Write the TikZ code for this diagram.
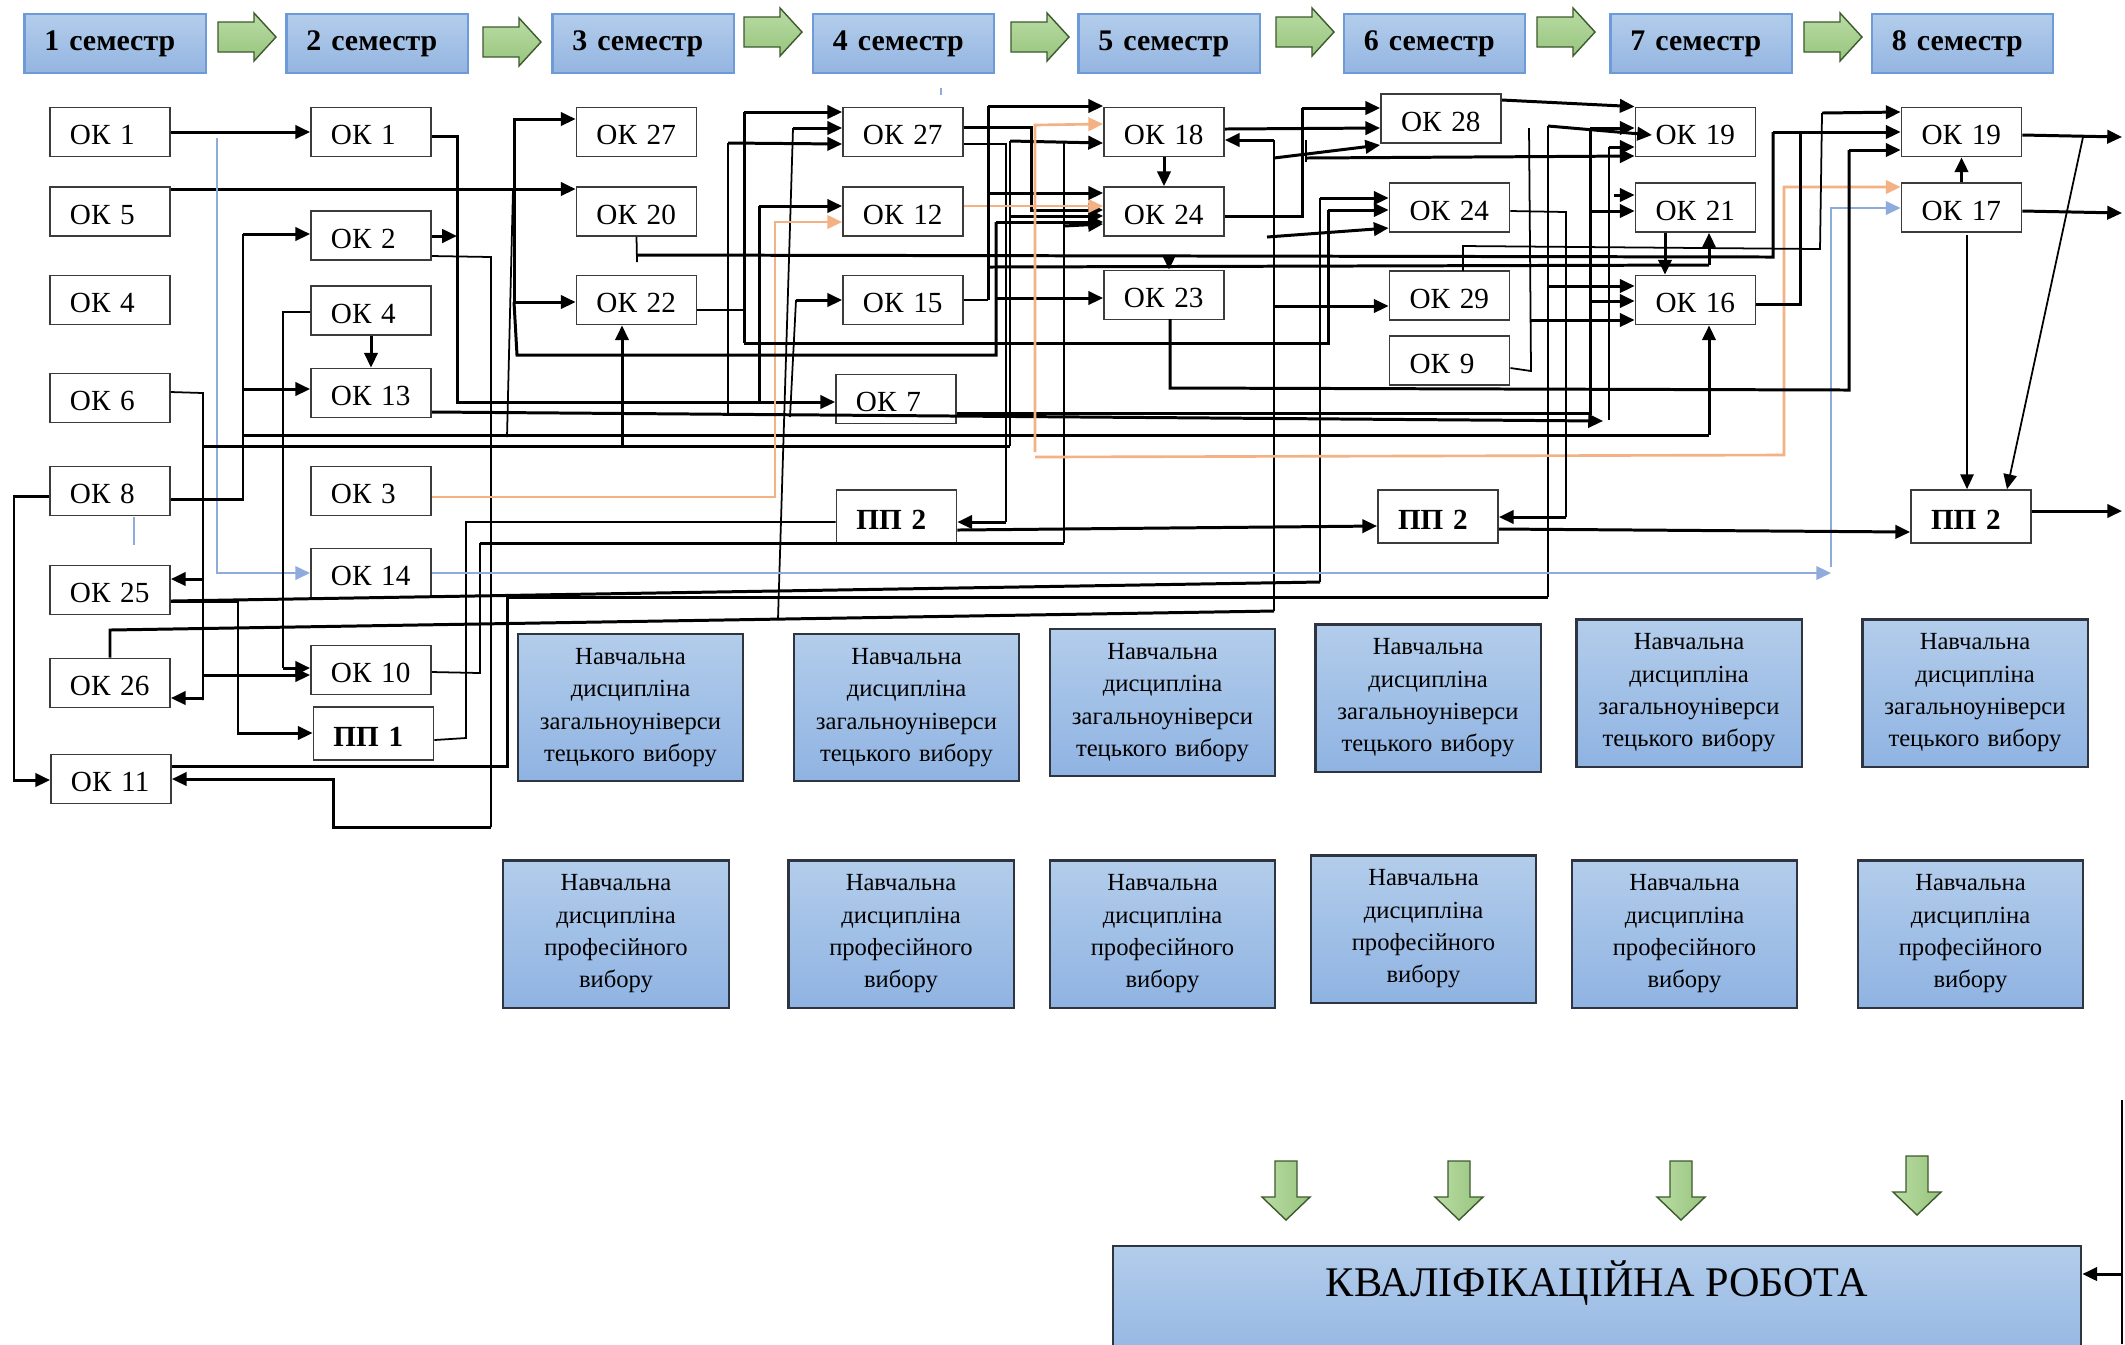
\documentclass[tikz,border=0pt]{standalone}
\usepackage{fontspec}
\setmainfont{Liberation Serif}
\usepackage{xcolor}
\usepackage{tikz}
\usetikzlibrary{arrows.meta}
\definecolor{boxline}{HTML}{3B3B3B}
\definecolor{semtop}{HTML}{B3CDEB}
\definecolor{sembot}{HTML}{94B5E1}
\definecolor{semline}{HTML}{6E9BD8}
\definecolor{discline}{HTML}{2E3440}
\definecolor{disctop}{HTML}{B3CDEB}
\definecolor{discbot}{HTML}{8FB3E2}
\definecolor{grtop}{HTML}{B9DCA4}
\definecolor{grbot}{HTML}{98C47E}
\definecolor{grline}{HTML}{3D5A2E}
\definecolor{peach}{HTML}{F4B183}
\definecolor{skyline}{HTML}{8FAADC}
\tikzset{
  okbox/.style={draw=boxline, fill=white, line width=0.5pt, minimum width=1.2cm,
    minimum height=0.49cm, text width=0.8cm, inner xsep=0.2cm, inner ysep=0pt,
    text height=0.25cm, text depth=0cm,
    align=left, font=\fontsize{8.3}{9}\selectfont},
  ppbox/.style={okbox, minimum height=0.53cm, font=\fontsize{8.3}{9}\selectfont\bfseries},
  semhead/.style={draw=semline, top color=semtop, bottom color=sembot, line width=0.6pt,
    minimum width=1.81cm, minimum height=0.59cm, text width=1.41cm, inner xsep=0.2cm,
    align=left, font=\fontsize{8.5}{10}\selectfont\bfseries},
  discbox/.style={draw=discline, top color=disctop, bottom color=discbot, line width=0.6pt,
    minimum width=2.25cm, minimum height=1.47cm, text width=2.1cm, inner xsep=0.075cm,
    align=center, font=\fontsize{7}{9.2}\selectfont},
  krbox/.style={draw=discline, top color=disctop, bottom color=discbot, line width=0.6pt,
    minimum width=9.68cm, inner ysep=0pt, text height=0.5cm, text depth=0.8cm,
    font=\fontsize{12}{14}\selectfont},
  greenarrow/.style={draw=grline, line width=0.4pt, top color=grtop, bottom color=grbot},
  greendown/.style={draw=grline, line width=0.4pt, left color=grtop, right color=grbot},
  wire/.style={line width=0.85pt, black},
  thinwire/.style={line width=0.5pt, black},
  orwire/.style={line width=0.75pt, peach},
  bluwire/.style={line width=0.75pt, skyline},
  arr/.style={-{Triangle[length=4.2pt,width=3.8pt]}}
}

\begin{document}
\begin{tikzpicture}[x=0.01cm, y=-0.01cm]
\useasboundingbox (0,0) rectangle (2125,1344);
\fill[white] (0,0) rectangle (2125,1344);
\clip (0,0) rectangle (2125,1344);

\foreach \i/\x in {1/115,2/377,3/643,4/903.5,5/1169,6/1434.5,7/1701,8/1962.5}
  \node[semhead] (sem\i) at (\x,43.5) {\i\ семестр};
\foreach \x/\y in {218/37,483/42,744/32,1011/37,1276/32,1537/32,1804/37}
  \draw[greenarrow] (\x,\y-15) -- (\x+36,\y-15) -- (\x+36,\y-24) -- (\x+58,\y)
    -- (\x+36,\y+24) -- (\x+36,\y+15) -- (\x,\y+15) -- cycle;

\foreach \n/\y/\t in {a1/132/1,a5/211.5/5,a4/300/4,a6/398/6,a8/491/8,a25/590/25,a26/683/26}
  \node[okbox] (\n) at (110,\y) {ОК \t};
\node[okbox] (a11) at (111,779) {ОК 11};
\foreach \n/\y/\t in {b1/132/1,b2/235.5/2,b4/310.5/4,b13/393/13,b3/491/3,b14/573/14,b10/670/10}
  \node[okbox] (\n) at (371,\y) {ОК \t};
\node[ppbox] (bp1) at (373.5,733.5) {ПП 1};
\foreach \n/\y/\t in {c27/132/27,c20/211.5/20,c22/300/22}
  \node[okbox] (\n) at (636.5,\y) {ОК \t};
\foreach \n/\y/\t in {d27/132/27,d12/211.5/12,d15/300/15}
  \node[okbox] (\n) at (903,\y) {ОК \t};
\node[okbox] (d7) at (896,399) {ОК 7};
\node[ppbox] (dp2) at (896.5,516.5) {ПП 2};
\foreach \n/\y/\t in {e18/132/18,e24/211.5/24,e23/295/23}
  \node[okbox] (\n) at (1164,\y) {ОК \t};
\node[okbox] (f28) at (1441,118.5) {ОК 28};
\foreach \n/\y/\t in {f24/207.5/24,f29/295.5/29,f9/360.5/9}
  \node[okbox] (\n) at (1449.5,\y) {ОК \t};
\node[ppbox] (fp2) at (1438,516.5) {ПП 2};
\foreach \n/\y/\t in {g19/132/19,g21/207.5/21,g16/300/16}
  \node[okbox] (\n) at (1695.5,\y) {ОК \t};
\foreach \n/\y/\t in {h19/132/19,h17/207.5/17}
  \node[okbox] (\n) at (1961.5,\y) {ОК \t};
\node[ppbox] (hp2) at (1971,516.5) {ПП 2};

\foreach \i/\x/\y in {1/630.5/707.5,2/906.5/707.5,3/1162.5/702.5,4/1428/698,5/1689/693,6/1975/693}
  \node[discbox] (gen\i) at (\x,\y) {Навчальна\\дисципліна\\загальноуніверси\\тецького вибору};
\foreach \i/\x/\y in {1/616/934,2/901/934,3/1162.5/934,4/1423.5/929,5/1684.5/934,6/1970.5/934}
  \node[discbox] (prof\i) at (\x,\y) {Навчальна\\дисципліна\\професійного\\вибору};

\foreach \x/\y in {1286/1161,1459/1161,1681/1161,1917/1156}
  \draw[greendown] (\x-11,\y) -- (\x+11,\y) -- (\x+11,\y+36) -- (\x+24,\y+36)
    -- (\x,\y+59) -- (\x-24,\y+36) -- (\x-11,\y+36) -- cycle;
\node[krbox, anchor=north] (kr) at (1597,1245) {КВАЛІФІКАЦІЙНА РОБОТА};

\draw[wire,arr] (a1) -- (b1);
\draw[wire,arr] (a5.east |- 0,189) -- (c20.west |- 0,189);
\draw[bluwire,arr] (217,138) |- (b14.west);
\draw[bluwire] (134,517) -- (134,545);
\draw[bluwire] (941,88) -- (941,95);
\draw[wire,arr] (b1.east |- 0,136) -- (457,136) -- (457,402) -- (d7.west |- 0,402);
\draw[wire,arr] (b2.east |- 0,236) -- (457,236);
\draw[thinwire] (b2.east |- 0,256) -- (491,257) -- (491,827);
\draw[wire,arr] (491,827) -- (333,827) -- (333,779) -- (a11.east |- 0,779);
\draw[wire] (a8.east |- 0,499) -- (243,499) -- (243,234);
\draw[wire,arr] (243,234) -- (b2.west |- 0,234);
\draw[wire,arr] (243,389) -- (b13.west |- 0,389);
\draw[wire] (243,435) -- (1709,435);
\draw[wire,arr] (1709,435) -- (g16.south -| 1709,0);
\draw[thinwire] (a6.east |- 0,392) -- (203,393) -- (203,700);
\draw[wire,arr] (203,579) -- (a25.east |- 0,579);
\draw[wire,arr] (203,698) -- (a26.east |- 0,698);
\draw[wire,arr] (203,675) -- (b10.west |- 0,675);
\draw[wire] (203,446) -- (1010,446);
\draw[thinwire] (1010,446) -- (1010,141);
\draw[wire,arr] (1010,141) -- (e18.west |- 0,143);
\draw[wire,arr] (1010,216) -- (e24.west |- 0,216);
\draw[wire,arr] (622,446) -- (c22.south -| 622,0);
\draw[wire,arr] (b4) -- (b13);
\draw[thinwire] (b4.west |- 0,312) -- (283,312) -- (283,668);
\draw[wire,arr] (283,668) -- (b10.west |- 0,668);
\draw[wire,arr] (a8.west |- 0,496) -- (14,496) -- (14,780) -- (a11.west |- 0,780);
\draw[wire,arr] (a25.east |- 0,601) -- (238,601) -- (238,733) -- (bp1.west |- 0,733);
\draw[wire] (a25.east |- 0,601) -- (1320,582);
\draw[thinwire] (1320,582) -- (1320,198);
\draw[wire,arr] (1320,198) -- (f24.west |- 0,198);
\draw[wire] (a26.north) -- (110,630) -- (1274,611);
\draw[thinwire] (1274,611) -- (1274,140);
\draw[wire,arr] (1274,140) -- (e18.east |- 0,140);
\draw[wire,arr] (1274,306) -- (f29.west |- 0,306);
\draw[wire,arr] (1274,158) -- (f28.west |- 0,145);
\draw[thinwire] (778,619) -- (793,128);
\draw[wire,arr] (793,128) -- (d27.west |- 0,128);
\draw[wire] (a11.east |- 0,766) -- (507,766) -- (507,597) -- (1548,597);
\draw[thinwire] (1548,597) -- (1548,126);
\draw[wire,arr] (1548,126) -- (1652,135);
\draw[wire,arr] (1548,286) -- (g16.west |- 0,286);
\draw[thinwire] (b10.east |- 0,672) -- (480,673) -- (480,543);
\draw[wire] (480,543) -- (1064,543);
\draw[thinwire] (1064,543) -- (1064,142);
\draw[wire,arr] (1064,226) -- (e24.west |- 0,224);
\draw[thinwire] (bp1.east |- 0,740) -- (466,738) -- (466,522) -- (dp2.west |- 0,522);
\draw[orwire,arr] (b3.east |- 0,497) -- (775,497) -- (775,222) -- (d12.west |- 0,222);
\draw[bluwire,arr] (b14.east |- 0,573) -- (1831,573);
\draw[bluwire,arr] (1831,567) -- (1831,208) -- (h17.west |- 0,208);
\draw[wire,arr] (514,302) -- (514,119) -- (c27.west |- 0,119);
\draw[wire,arr] (514,302) -- (c22.west |- 0,302);
\draw[wire] (514,302) -- (517,355) -- (996,355) -- (996,222);
\draw[wire,arr] (996,222) -- (e24.west |- 0,222);
\draw[wire,arr] (996,298) -- (e23.west |- 0,298);
\draw[thinwire] (513,189) -- (507,437);
\draw[thinwire] (c20.south) -- (637,262);
\draw[wire] (636,255) -- (1773,257) -- (1773,132);
\draw[wire,arr] (1773,132) -- (h19.west |- 0,132);
\draw[wire,arr] (1169,256) -- (e23.north -| 1169,0);
\draw[thinwire] (c22.east |- 0,310) -- (744,310);
\draw[wire] (744,343) -- (744,112);
\draw[wire,arr] (744,112) -- (d27.west |- 0,112);
\draw[wire] (744,343) -- (1328,343) -- (1328,210);
\draw[wire,arr] (1328,210) -- (f24.west |- 0,210);
\draw[wire,arr] (b13.east |- 0,412) -- (1603,421);
\draw[thinwire] (728,416) -- (728,143);
\draw[wire,arr] (728,143) -- (d27.west |- 0,144);
\draw[thinwire] (790,417) -- (796,300);
\draw[wire,arr] (796,300) -- (d15.west |- 0,300);
\draw[thinwire] (1609,420) -- (1609,147);
\draw[wire,arr] (1609,147) -- (g19.west |- 0,147);
\draw[wire] (759,402) -- (759,206);
\draw[wire,arr] (759,206) -- (d12.west |- 0,206);
\draw[wire] (d7.east |- 0,413) -- (1590,413) -- (1590,128);
\draw[wire,arr] (1590,128) -- (g19.west |- 0,128);
\draw[wire,arr] (1590,211) -- (g21.west |- 0,211);
\draw[wire,arr] (1590,301) -- (g16.west |- 0,301);
\draw[wire,arr] (d27.east |- 0,127) -- (1031,127) -- (1031,210) -- (e24.west |- 0,210);
\draw[thinwire] (d27.east |- 0,144) -- (1006,144) -- (1006,522);
\draw[wire,arr] (1006,522) -- (dp2.east |- 0,522);
\draw[orwire,arr] (d12.east |- 0,206) -- (e24.west |- 0,206);
\draw[thinwire] (d15.east) -- (988,300);
\draw[wire] (988,300) -- (988,106);
\draw[wire,arr] (988,106) -- (e18.north west |- 0,106);
\draw[wire,arr] (988,193) -- (e24.west |- 0,193);
\draw[wire] (988,267) -- (1709,265);
\draw[wire,arr] (1709,265) -- (g21.south -| 1709,0);
\draw[orwire,arr] (1035,452) -- (1035,125) -- (e18.west |- 0,124);
\draw[orwire,arr] (1035,457) -- (1784,455) -- (1784,187) -- (h17.west |- 0,187);
\draw[wire,arr] (e18) -- (e24);
\draw[wire,arr] (e18.east |- 0,129) -- (f28.west |- 0,128);
\draw[wire] (e24.east |- 0,216) -- (1302,216) -- (1302,108);
\draw[wire,arr] (1302,108) -- (f28.west |- 0,108);
\draw[wire] (1170,319) -- (1170,388) -- (1849,390) -- (1849,150);
\draw[wire,arr] (1849,150) -- (h19.west |- 0,150);
\draw[wire,arr] (1267,237) -- (f24.west |- 0,228);
\draw[thinwire] (1306,140) -- (1306,162);
\draw[wire,arr] (1306,158) -- (g19.west |- 0,156);
\draw[wire,arr] (f28.east |- 0,100) -- (g19.north west);
\draw[thinwire] (f24.east |- 0,211) -- (1566,212) -- (1566,517);
\draw[wire,arr] (1566,517) -- (fp2.east |- 0,517);
\draw[thinwire] (1463,271) -- (1463,246) -- (1820,249) -- (1822,113);
\draw[wire,arr] (1822,113) -- (h19.west |- 0,112);
\draw[thinwire] (f9.east |- 0,368) -- (1531,371) -- (1529,128);
\draw[wire,arr] (1531,320) -- (g16.west |- 0,320);
\draw[wire,arr] (1614,195) -- (g21.west |- 0,195);
\draw[wire,arr] (dp2.east |- 0,530) -- (fp2.west |- 0,526);
\draw[wire,arr] (fp2.east |- 0,529) -- (hp2.west |- 0,532);
\draw[wire,arr] (g21.south -| 1665,0) -- (g16.north -| 1665,0);
\draw[wire] (g16.east |- 0,304) -- (1800,304) -- (1800,132);
\draw[wire,arr] (h17) -- (h19);
\draw[wire,arr] (h19.east |- 0,135) -- (2122,137);
\draw[wire,arr] (h17.east |- 0,211) -- (2122,213);
\draw[thinwire,arr] (2083,137) -- (hp2.north -| 2007,0);
\draw[thinwire,arr] (1967,235) -- (hp2.north -| 1967,0);
\draw[wire,arr] (hp2.east |- 0,511) -- (2122,511);
\draw[thinwire] (2122,1100) -- (2122,1344);
\draw[wire,arr] (2122,1274) -- (kr.east |- 0,1274);
\end{tikzpicture}
\end{document}
